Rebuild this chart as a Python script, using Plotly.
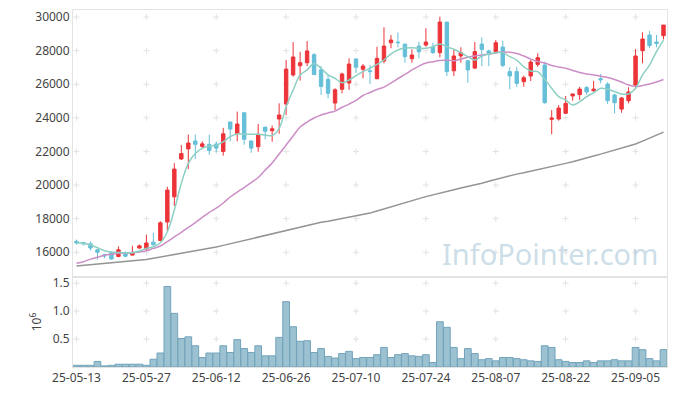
import plotly.graph_objects as go

dates = ["25-05-13","25-05-14","25-05-15","25-05-16","25-05-19","25-05-20","25-05-21","25-05-22","25-05-23","25-05-26",
         "25-05-27","25-05-28","25-05-29","25-05-30","25-06-02","25-06-04","25-06-05","25-06-09","25-06-10","25-06-11",
         "25-06-12","25-06-13","25-06-16","25-06-17","25-06-18","25-06-19","25-06-20","25-06-23","25-06-24","25-06-25",
         "25-06-26","25-06-27","25-06-30","25-07-01","25-07-02","25-07-03","25-07-04","25-07-07","25-07-08","25-07-09",
         "25-07-10","25-07-11","25-07-14","25-07-15","25-07-16","25-07-17","25-07-18","25-07-21","25-07-22","25-07-23",
         "25-07-24","25-07-25","25-07-28","25-07-29","25-07-30","25-07-31","25-08-01","25-08-04","25-08-05","25-08-06",
         "25-08-07","25-08-08","25-08-11","25-08-12","25-08-13","25-08-14","25-08-18","25-08-19","25-08-20","25-08-21",
         "25-08-22","25-08-25","25-08-26","25-08-27","25-08-28","25-08-29","25-09-01","25-09-02","25-09-03","25-09-04",
         "25-09-05","25-09-08","25-09-09","25-09-10","25-09-11"]

opens = [16650,16580,16500,16150,15850,15980,15750,15980,15830,16250,
         16200,16600,16700,17800,19300,21550,22150,22620,22300,22420,
         22440,22000,23750,23050,24300,22620,22280,23450,23230,23930,
         24820,26550,27100,27280,27760,26860,26290,24880,25700,26070,
         27500,26890,26800,26330,27380,28470,28510,28390,27520,28270,
         28330,28200,27880,29700,26800,27680,27400,26960,28390,27980,
         27930,28210,26750,26750,26150,26490,27180,27140,23910,23930,
         24270,25300,25380,25800,25610,26330,26010,25360,24520,25020,
         25950,27990,28930,28510,28890]
highs = [16750,16600,16650,16150,15920,16050,16350,16050,16380,16460,
         17050,17150,17850,19900,21300,22380,23000,23000,22600,23000,
         22600,23400,23750,24370,24300,22650,23630,23450,23550,24860,
         27440,28510,27930,28570,27850,27080,26550,25760,26690,27540,
         27550,27200,27140,28230,29390,28930,29090,28390,28080,28530,
         29330,28470,30020,29700,28080,28200,27400,28510,28790,28060,
         28630,28590,27010,27040,26510,27440,27840,27340,24460,24760,
         25300,25440,25840,25900,26190,26610,26120,25440,25240,25820,
         28080,29090,29160,28930,29520]
lows = [16450,16400,16100,15550,15650,15550,15700,15700,15820,16200,
        16150,16400,16650,17250,18750,21500,20950,21550,22200,21800,
        21950,21750,22600,22600,22400,21920,21980,22720,22580,23050,
        24170,26450,26210,27080,26570,25360,25160,24460,25460,25660,
        26670,26350,26010,26290,27240,28140,28200,27280,27280,27540,
        28230,27800,27600,26490,26490,27280,26090,26900,27080,27080,
        27810,27010,25700,25850,25850,26190,27040,24840,23020,23830,
        24230,25020,25060,25380,25560,26050,24830,24270,24300,24860,
        25700,27240,28150,28200,28670]
closes = [16550,16500,16250,16000,15780,15600,16150,15760,15960,16380,
          16550,16450,17750,19700,20950,21870,22500,22420,22450,22050,
          22200,23050,23330,23630,22720,22200,23020,23200,23350,24170,
          26900,27620,27280,27980,26570,25870,25460,25670,26610,27200,
          27010,27080,26750,27540,28270,28630,28470,27640,27740,27930,
          28510,27880,29700,26750,27680,27880,26850,27940,28070,27850,
          28470,27120,26490,26050,26390,27320,27580,24900,23990,24580,
          24860,25420,25710,25540,25710,26260,25020,24900,25180,25540,
          27680,28690,28300,28420,29520]
ma5 = [16570,16530,16430,16270,16090,16010,15990,15970,15970,16070,
       16230,16330,16570,17220,18510,20100,21290,21880,22180,22320,
       22370,22580,22880,23040,23020,23020,23020,22980,22940,23370,
       24660,25650,26550,26850,27240,26950,26550,26350,26090,26250,
       26510,26750,26950,27180,27440,27800,28040,28150,28170,28140,
       28140,28230,28390,28230,28080,27880,27640,27440,27680,27800,
       27880,27880,27640,27440,27040,26790,26750,26290,25760,25260,
       25060,24760,24960,25260,25490,25760,25700,25560,25420,25420,
       25760,26550,27140,27940,28630]
ma20 = [15340,15440,15590,15700,15820,15880,15940,15960,15980,16010,
        16090,16230,16370,16630,16920,17190,17480,17760,18080,18380,
        18620,18930,19290,19580,19850,20150,20450,20890,21310,21850,
        22380,22920,23450,23750,23990,24170,24290,24400,24630,24820,
        25040,25330,25510,25690,25830,26070,26340,26580,26850,27080,
        27260,27340,27410,27440,27400,27500,27600,27680,27740,27800,
        27860,27920,27900,27830,27680,27500,27350,27260,27110,27020,
        26950,26820,26700,26610,26550,26480,26400,26280,26130,25950,
        25860,25920,26010,26130,26280]
ma120 = [15180,15220,15260,15300,15340,15370,15410,15440,15480,15510,
         15570,15640,15700,15780,15860,15940,16010,16090,16160,16230,
         16310,16410,16510,16610,16700,16790,16890,16980,17080,17190,
         17290,17400,17510,17620,17700,17780,17850,17930,18010,18080,
         18160,18240,18330,18450,18580,18700,18830,18960,19080,19190,
         19310,19420,19540,19630,19720,19820,19910,20000,20110,20230,
         20340,20460,20570,20650,20730,20820,20900,20980,21080,21180,
         21290,21390,21490,21610,21730,21840,21960,22080,22200,22320,
         22440,22610,22790,22970,23150]
volume = [0.03,0.03,0.03,0.10,0.02,0.03,0.05,0.05,0.05,0.05,
          0.03,0.14,0.25,1.44,0.96,0.51,0.54,0.38,0.17,0.25,
          0.25,0.38,0.26,0.49,0.33,0.26,0.38,0.20,0.20,0.53,
          1.17,0.72,0.46,0.47,0.26,0.33,0.19,0.16,0.24,0.28,
          0.15,0.17,0.17,0.22,0.35,0.17,0.22,0.24,0.20,0.19,
          0.22,0.08,0.81,0.71,0.35,0.15,0.33,0.24,0.13,0.15,
          0.11,0.17,0.17,0.15,0.13,0.11,0.10,0.38,0.35,0.13,
          0.10,0.08,0.08,0.11,0.08,0.11,0.11,0.13,0.11,0.11,
          0.35,0.31,0.15,0.11,0.31]

price_ticks = [16000, 18000, 20000, 22000, 24000, 26000, 28000, 30000]
vol_ticks = [0.5, 1.0, 1.5]
x_ticks = dates[::10]

UP = "#ec3439"
DOWN = "#66bfd8"
FONT = "Noto Sans"
GRID = "#e2e2e2"

fig = go.Figure()

fig.add_trace(go.Candlestick(
    x=dates, open=opens, high=highs, low=lows, close=closes,
    increasing=dict(line=dict(color=UP, width=1), fillcolor=UP),
    decreasing=dict(line=dict(color=DOWN, width=1), fillcolor=DOWN),
    whiskerwidth=0, showlegend=False, hoverinfo="skip", xaxis="x", yaxis="y"))

fig.add_trace(go.Scatter(x=dates, y=ma120, mode="lines", line=dict(color="#949494", width=1.5),
                         showlegend=False, xaxis="x", yaxis="y"))
fig.add_trace(go.Scatter(x=dates, y=ma20, mode="lines", line=dict(color="#cc8ec6", width=1.5, shape="spline"),
                         showlegend=False, xaxis="x", yaxis="y"))
fig.add_trace(go.Scatter(x=dates, y=ma5, mode="lines", line=dict(color="#8ccfc3", width=1.5, shape="spline"),
                         showlegend=False, xaxis="x", yaxis="y"))

fig.add_trace(go.Bar(x=dates, y=volume, marker=dict(color="#9cc1d1", line=dict(color="#72a4bb", width=1)),
                     showlegend=False, xaxis="x2", yaxis="y2"))

# grid "+" marks at tick intersections, drawn beneath the data
shapes = []
def add_cross(xr, yr, xv, yv):
    shapes.append(dict(type="line", xref=xr, yref=yr, layer="below", xsizemode="pixel", xanchor=xv,
                       x0=-3, x1=3, y0=yv, y1=yv, line=dict(color=GRID, width=1)))
    shapes.append(dict(type="line", xref=xr, yref=yr, layer="below", ysizemode="pixel", yanchor=yv,
                       y0=-3, y1=3, x0=xv, x1=xv, line=dict(color=GRID, width=1)))
for t in x_ticks:
    for p in price_ticks:
        add_cross("x", "y", t, p)
    for v in vol_ticks:
        add_cross("x2", "y2", t, v)

axis_common = dict(showgrid=False, zeroline=False, showline=True, linecolor="#e3e3e3", linewidth=1,
                   mirror=True, ticks="", automargin=False,
                   tickfont=dict(family=FONT, size=12, color="#444444"))

fig.update_layout(
    width=677, height=396,
    margin=dict(l=65, r=18, t=2, b=37),
    paper_bgcolor="white", plot_bgcolor="white",
    bargap=0.04,
    shapes=shapes,
    xaxis=dict(type="category", categoryorder="array", categoryarray=dates,
               domain=[0, 1], anchor="y", range=[-0.5, 84.5],
               showticklabels=False, rangeslider=dict(visible=False), **axis_common),
    yaxis=dict(domain=[0.252, 1], anchor="x", range=[14525, 30417], tickvals=price_ticks,
               ticktext=[str(p) for p in price_ticks], **axis_common),
    xaxis2=dict(type="category", categoryorder="array", categoryarray=dates,
                domain=[0, 1], anchor="y2", range=[-0.5, 84.5], tickangle=0,
                tickvals=x_ticks, ticktext=x_ticks, **axis_common),
    yaxis2=dict(domain=[0, 0.252], anchor="x2", range=[0, 1.61], tickvals=vol_ticks,
                ticktext=["0.5", "1.0", "1.5"],
                title=dict(text="10<sup>6</sup>", font=dict(family=FONT, size=12, color="#444444"), standoff=8),
                **axis_common),
    annotations=[dict(text="InfoPointer.com", xref="paper", yref="paper", x=0.803, y=0.319,
                      xanchor="center", yanchor="middle",
                      showarrow=False, font=dict(family=FONT, size=29, color="rgba(160,195,212,0.55)"))],
)

fig.write_html("out.html")
